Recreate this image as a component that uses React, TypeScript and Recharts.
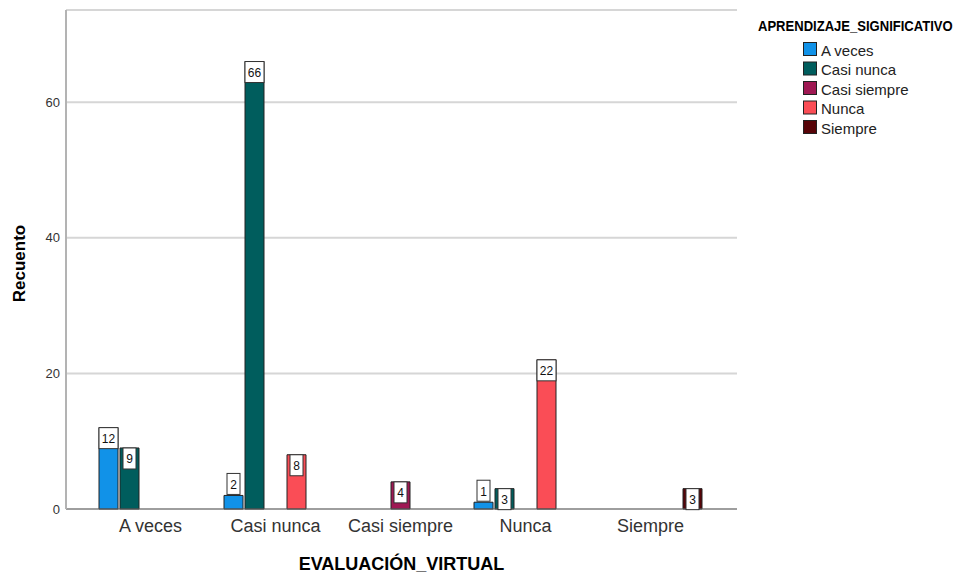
import { BarChart, Bar, XAxis, YAxis, CartesianGrid, Label } from "recharts";

const categories = ["A veces", "Casi nunca", "Casi siempre", "Nunca", "Siempre"];

// APRENDIZAJE_SIGNIFICATIVO groups, one value per EVALUACIÓN_VIRTUAL category
const aVeces = [12, 2, null, 1, null];
const casiNunca = [9, 66, null, 3, null];
const casiSiempre = [null, null, 4, null, null];
const nunca = [null, 8, null, 22, null];
const siempre = [null, null, null, null, 3];

const yTicks = [0, 20, 40, 60];

const series = [
  { key: "aVeces", name: "A veces", color: "#1192e8", values: aVeces },
  { key: "casiNunca", name: "Casi nunca", color: "#005d5d", values: casiNunca },
  { key: "casiSiempre", name: "Casi siempre", color: "#9f1853", values: casiSiempre },
  { key: "nunca", name: "Nunca", color: "#fa4d56", values: nunca },
  { key: "siempre", name: "Siempre", color: "#570408", values: siempre },
];

const data = categories.map((cat, i) => {
  const row: Record<string, string | number | null> = { cat };
  series.forEach((s) => (row[s.key] = s.values[i]));
  return row;
});

const FONT = '"Liberation Sans", Arial, sans-serif';

const ValueBox = (props: any) => {
  const { x, y, width, height, value } = props;
  if (value == null || value === 0) return null;
  const txt = String(value);
  const w = txt.length > 1 ? 19 : 13;
  const h = 21;
  const cx = x + width / 2;
  const top = height >= 18 ? y : y - h - 1;
  return (
    <g>
      <rect x={cx - w / 2} y={top} width={w} height={h} fill="#fff" stroke="#333" strokeWidth={1} />
      <text x={cx} y={top + h / 2 + 1} textAnchor="middle" dominantBaseline="central" fontSize={12} fill="#111" fontFamily={FONT}>
        {txt}
      </text>
    </g>
  );
};

const YTitle = (props: any) => {
  const vb = props.viewBox || { y: 10, height: 499 };
  const cx = 19;
  const cy = vb.y + vb.height / 2 + 4;
  return (
    <text x={cx} y={cy} transform={`rotate(-90 ${cx} ${cy})`} textAnchor="middle" dominantBaseline="central" fontSize={17} fontWeight="bold" fill="#000" fontFamily={FONT}>
      Recuento
    </text>
  );
};

const XTitle = (props: any) => {
  const vb = props.viewBox || { x: 66, width: 671 };
  const cx = vb.x + vb.width / 2;
  return (
    <text x={cx} y={564} textAnchor="middle" dominantBaseline="central" fontSize={18} fontWeight="bold" fill="#000" fontFamily={FONT}>
      EVALUACIÓN_VIRTUAL
    </text>
  );
};

export default function App() {
  return (
    <div style={{ position: "absolute", left: 0, top: 0, width: 957, height: 579, background: "#fff", fontFamily: FONT }}>
      <BarChart
        width={957}
        height={579}
        data={data}
        margin={{ top: 10, right: 220, left: 0, bottom: 0 }}
        barCategoryGap={11}
        barGap={2}
      >
        <CartesianGrid vertical={false} stroke="#d6d6d6" strokeWidth={2} />
        <XAxis
          dataKey="cat"
          height={70}
          padding={{ left: 22, right: 24 }}
          tickLine={false}
          tickSize={0}
          tickMargin={10}
          axisLine={{ stroke: "#666", strokeWidth: 1 }}
          tick={{ fontSize: 18, fill: "#333", fontFamily: FONT }}
          interval={0}
        >
          <Label content={<XTitle />} />
        </XAxis>
        <YAxis
          width={66}
          domain={[0, 73.6]}
          ticks={yTicks}
          tickLine={false}
          tickSize={0}
          tickMargin={6}
          axisLine={{ stroke: "#b3b3b3", strokeWidth: 2 }}
          tick={{ fontSize: 13, fill: "#333", fontFamily: FONT }}
        >
          <Label content={<YTitle />} />
        </YAxis>
        {series.map((s) => (
          <Bar
            key={s.key}
            dataKey={s.key}
            name={s.name}
            fill={s.color}
            stroke="#222"
            strokeWidth={1}
            isAnimationActive={false}
            label={<ValueBox />}
          />
        ))}
      </BarChart>
      <svg width={957} height={579} style={{ position: "absolute", left: 0, top: 0, pointerEvents: "none" }}>
        <g transform="translate(758 31) scale(0.87 1)">
          <text x={0} y={0} fontSize={15} fontWeight="bold" fill="#000" fontFamily={FONT}>
            APRENDIZAJE_SIGNIFICATIVO
          </text>
        </g>
        {series.map((s, i) => (
          <g key={s.key}>
            <rect x={803.5} y={42.5 + i * 19.5} width={13} height={13} fill={s.color} stroke="#222" strokeWidth={1} />
            <text x={821} y={55.5 + i * 19.5} fontSize={15} fill="#222" fontFamily={FONT}>
              {s.name}
            </text>
          </g>
        ))}
      </svg>
    </div>
  );
}
